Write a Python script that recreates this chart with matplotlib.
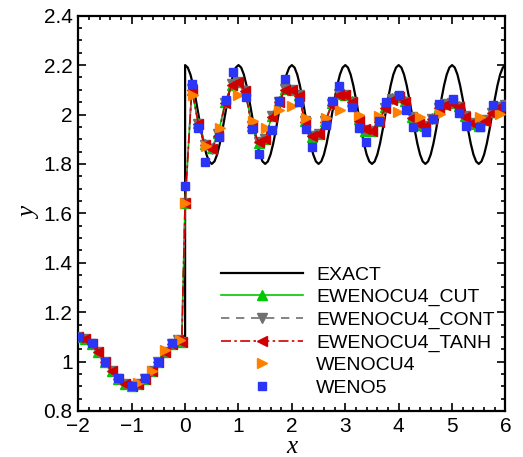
import matplotlib.pyplot as plt
from matplotlib.ticker import MultipleLocator, FormatStrFormatter

# exact solution
exact_x = [-2.0, -1.9, -1.8, -1.7, -1.6, -1.5, -1.4, -1.3, -1.2, -1.1, -1.0,
           -0.9, -0.8, -0.7, -0.6, -0.5, -0.4, -0.3, -0.2, -0.1, 0.0]
exact_y = [1.1, 1.095, 1.081, 1.059, 1.031, 1.0, 0.969, 0.941, 0.919, 0.905, 0.9,
           0.905, 0.919, 0.941, 0.969, 1.0, 1.031, 1.059, 1.081, 1.095, 1.1]
exact_x += [round(0.05 * i, 2) for i in range(121)]
exact_y += [2.2, 2.19, 2.162, 2.118, 2.062, 2.0, 1.938, 1.882, 1.838, 1.81, 1.8, 1.81, 1.838, 1.882, 1.938, 2.0, 2.062, 2.118, 2.162, 2.19,
            2.2, 2.19, 2.162, 2.118, 2.062, 2.0, 1.938, 1.882, 1.838, 1.81, 1.8, 1.81, 1.838, 1.882, 1.938, 2.0, 2.062, 2.118, 2.162, 2.19,
            2.2, 2.19, 2.162, 2.118, 2.062, 2.0, 1.938, 1.882, 1.838, 1.81, 1.8, 1.81, 1.838, 1.882, 1.938, 2.0, 2.062, 2.118, 2.162, 2.19,
            2.2, 2.19, 2.162, 2.118, 2.062, 2.0, 1.938, 1.882, 1.838, 1.81, 1.8, 1.81, 1.838, 1.882, 1.938, 2.0, 2.062, 2.118, 2.162, 2.19,
            2.2, 2.19, 2.162, 2.118, 2.062, 2.0, 1.938, 1.882, 1.838, 1.81, 1.8, 1.81, 1.838, 1.882, 1.938, 2.0, 2.062, 2.118, 2.162, 2.19,
            2.2, 2.19, 2.162, 2.118, 2.062, 2.0, 1.938, 1.882, 1.838, 1.81, 1.8, 1.81, 1.838, 1.882, 1.938, 2.0, 2.062, 2.118, 2.162, 2.19,
            2.2]

# EWENOCU4 variants (nearly on top of each other)
ew_x = [-2.0, -1.875, -1.75, -1.625, -1.5, -1.375, -1.25, -1.125, -1.0, -0.875, -0.75, -0.625,
        -0.5, -0.375, -0.25, -0.125, -0.0625, 0.0,
        0.125, 0.25, 0.375, 0.5, 0.625, 0.75, 0.875, 1.0, 1.125, 1.25, 1.375, 1.5,
        1.625, 1.75, 1.875, 2.0, 2.125, 2.25, 2.375, 2.5, 2.625, 2.75, 2.875, 3.0,
        3.125, 3.25, 3.375, 3.5, 3.625, 3.75, 3.875, 4.0, 4.125, 4.25, 4.375, 4.5,
        4.625, 4.75, 4.875, 5.0, 5.125, 5.25, 5.375, 5.5, 5.625, 5.75, 5.875, 6.0]
ew_tanh = [1.1, 1.092, 1.071, 1.038, 1.0, 0.962, 0.929, 0.908, 0.9, 0.908, 0.929, 0.962,
           1.0, 1.038, 1.071, 1.088, 1.08, 1.64,
           2.1, 1.96, 1.875, 1.86, 1.915, 2.045, 2.12, 2.13, 2.095, 1.95, 1.89, 1.9,
           1.99, 2.05, 2.1, 2.1, 2.075, 1.97, 1.915, 1.92, 1.97, 2.04, 2.08, 2.08,
           2.05, 1.975, 1.94, 1.933, 1.97, 2.025, 2.06, 2.07, 2.05, 1.985, 1.96, 1.955,
           1.98, 2.025, 2.04, 2.045, 2.03, 1.99, 1.965, 1.955, 1.975, 2.005, 2.03, 2.04]
ew_cut = [1.1, 1.092, 1.071, 1.038, 1.0, 0.962, 0.929, 0.908, 0.9, 0.908, 0.929, 0.962,
          1.0, 1.038, 1.071, 1.088, 1.08, 1.64,
          2.1, 1.965, 1.88, 1.865, 1.925, 2.05, 2.12, 2.13, 2.1, 1.955, 1.885, 1.9,
          1.995, 2.055, 2.105, 2.1, 2.08, 1.975, 1.91, 1.92, 1.975, 2.045, 2.085, 2.08,
          2.055, 1.98, 1.935, 1.933, 1.975, 2.03, 2.065, 2.07, 2.055, 1.99, 1.958, 1.955,
          1.985, 2.03, 2.042, 2.045, 2.035, 1.993, 1.963, 1.955, 1.978, 2.01, 2.032, 2.04]
ew_cont = [1.1, 1.092, 1.071, 1.038, 1.0, 0.962, 0.929, 0.908, 0.9, 0.908, 0.929, 0.962,
           1.0, 1.038, 1.071, 1.088, 1.08, 1.64,
           2.105, 1.962, 1.878, 1.862, 1.92, 2.048, 2.122, 2.13, 2.097, 1.952, 1.888, 1.9,
           1.992, 2.052, 2.102, 2.1, 2.078, 1.972, 1.913, 1.92, 1.972, 2.042, 2.082, 2.08,
           2.052, 1.978, 1.938, 1.933, 1.972, 2.028, 2.062, 2.07, 2.052, 1.988, 1.96, 1.955,
           1.982, 2.028, 2.041, 2.045, 2.032, 1.992, 1.964, 1.955, 1.976, 2.008, 2.031, 2.04]

# WENOCU4 markers
cu4_x = [-0.875, -0.625, -0.375, -0.1, 0.0, 0.146, 0.395, 0.645, 0.99, 1.27, 1.51, 1.755,
         2.0, 2.27, 2.645, 2.895, 3.26, 3.635, 3.995, 4.39, 4.77, 5.515, 5.895]
cu4_y = [0.912, 0.96, 1.045, 1.088, 1.64, 2.079, 1.874, 1.947, 2.077, 1.975, 1.946, 2.018,
         2.036, 1.986, 1.987, 2.018, 1.996, 1.995, 2.01, 1.99, 2.004, 1.99, 2.002]

# WENO5 markers
weno5_x = [-2.0, -1.75, -1.5, -1.25, -1.0, -0.75, -0.5, -0.25, 0.0, 0.133, 0.245, 0.376,
           0.638, 0.758, 0.889, 1.132, 1.255, 1.386, 1.63, 1.761, 1.873, 2.135, 2.26, 2.378,
           2.634, 2.752, 2.883, 3.126, 3.257, 3.388, 3.631, 3.77, 4.006, 4.144, 4.268,
           4.518, 4.642, 4.754, 5.016, 5.128, 5.266, 5.515, 5.764, 6.0]
weno5_y = [1.1, 1.074, 1.0, 0.933, 0.903, 0.933, 1.0, 1.074, 1.71, 2.122, 1.947, 1.809,
           1.91, 2.059, 2.172, 2.072, 1.943, 1.842, 1.939, 2.055, 2.145, 2.05, 1.943, 1.87,
           1.959, 2.056, 2.116, 2.032, 1.947, 1.89, 1.975, 2.052, 2.08, 2.018, 1.951,
           1.931, 1.983, 2.044, 2.061, 2.007, 1.954, 1.951, 2.039, 2.036]

fig = plt.figure(figsize=(5.23, 4.57), dpi=100)
ax = fig.add_axes([0.1497, 0.1007, 0.8168, 0.865])

ax.plot(exact_x, exact_y, color='black', lw=1.6, label='EXACT', zorder=2)
ax.plot(ew_x, ew_cut, color='#00c800', lw=1.2, ls='-', marker='^', ms=6.5,
        mec='#00c800', mfc='#00c800', label='EWENOCU4_CUT', zorder=3)
ax.plot(ew_x, ew_cont, color='#707070', lw=1.2, ls=(0, (5, 4)), marker='v', ms=6.5,
        mec='#707070', mfc='#707070', label='EWENOCU4_CONT', zorder=3)
ax.plot(ew_x, ew_tanh, color='#d00000', lw=1.2, ls=(0, (6, 2, 1.5, 2)), marker='<', ms=7,
        mec='#d00000', mfc='#d00000', label='EWENOCU4_TANH', zorder=4)
ax.plot(cu4_x, cu4_y, ls='none', marker='>', ms=6.5, color='#ff8000',
        label='WENOCU4', zorder=5)
ax.plot(weno5_x, weno5_y, ls='none', marker='s', ms=5.8, color='#2b35f5',
        label='WENO5', zorder=6)

ax.set_xlim(-2, 6)
ax.set_ylim(0.8, 2.4)
ax.xaxis.set_major_locator(MultipleLocator(1))
ax.xaxis.set_minor_locator(MultipleLocator(0.2))
ax.yaxis.set_major_locator(MultipleLocator(0.2))
ax.yaxis.set_minor_locator(MultipleLocator(0.05))
ax.yaxis.set_major_formatter(FormatStrFormatter('%g'))
ax.tick_params(which='both', direction='in', top=True, right=True, width=1.2)
ax.tick_params(which='major', length=6, labelsize=15, pad=4)
ax.tick_params(which='minor', length=3)
for lab in ax.get_xticklabels() + ax.get_yticklabels():
    lab.set_family('Liberation Sans')
for sp in ax.spines.values():
    sp.set_linewidth(1.6)

ax.set_xlabel('x', family='Liberation Serif', style='italic', fontsize=18, labelpad=0)
ax.set_ylabel('y', family='Liberation Serif', style='italic', fontsize=18, labelpad=2)

leg = ax.legend(loc='upper left', bbox_to_anchor=(221 / 523, 1 - 266 / 457),
                bbox_transform=fig.transFigure, frameon=False, borderpad=0,
                borderaxespad=0, handlelength=4.2, handletextpad=0.7,
                labelspacing=0.25, prop={'family': 'Liberation Sans', 'size': 14})

fig.savefig('out.png', dpi=100)
